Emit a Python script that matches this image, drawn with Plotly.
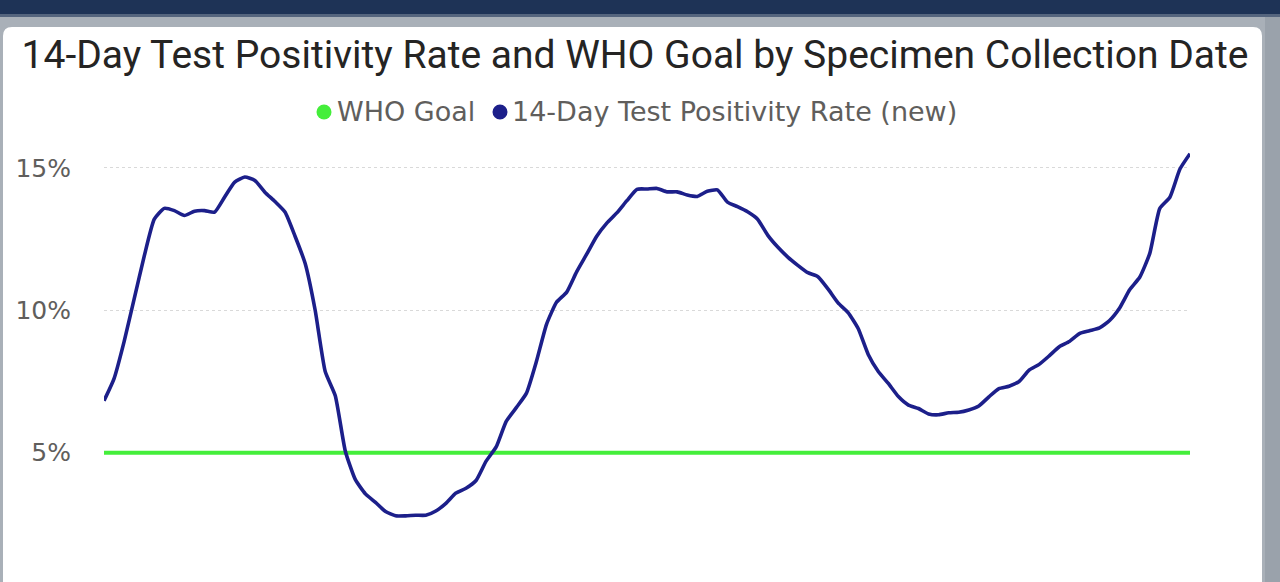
import plotly.graph_objects as go

# ---------------- data ----------------
day_index = list(range(109))
positivity_rate = [
    6.82, 7.6, 8.9, 10.4, 11.9, 13.2, 13.58, 13.5, 13.33, 13.48,
    13.5, 13.45, 13.98, 14.5, 14.68, 14.56, 14.15, 13.82, 13.45, 12.6,
    11.65, 10.0, 7.85, 7.0, 5.05, 4.05, 3.55, 3.25, 2.93, 2.78,
    2.78, 2.8, 2.8, 2.95, 3.22, 3.58, 3.75, 4.02, 4.7, 5.2,
    6.1, 6.58, 7.08, 8.2, 9.5, 10.28, 10.63, 11.35, 11.97, 12.6,
    13.06, 13.42, 13.85, 14.25, 14.26, 14.28, 14.16, 14.16, 14.05, 14.0,
    14.18, 14.23, 13.8, 13.64, 13.46, 13.2, 12.64, 12.22, 11.87, 11.58,
    11.32, 11.18, 10.75, 10.26, 9.92, 9.36, 8.45, 7.85, 7.43, 6.97,
    6.67, 6.55, 6.36, 6.33, 6.4, 6.42, 6.5, 6.64, 6.96, 7.25,
    7.33, 7.5, 7.9, 8.1, 8.4, 8.72, 8.9, 9.18, 9.28, 9.38,
    9.64, 10.08, 10.72, 11.16, 12.0, 13.58, 13.97, 14.96, 15.5,
]
who_goal_value = 5.0
who_goal = [who_goal_value for _ in day_index]

y_tick_values = [5, 10, 15]
y_tick_labels = ["5%", "10%", "15%"]

title_text = "14-Day Test Positivity Rate and WHO Goal by Specimen Collection Date"
legend_names = ["WHO Goal", "14-Day Test Positivity Rate (new)"]

# ---------------- styling ----------------
W, H = 1280, 582
ML, MR, MT, MB = 104, 90, 150, 0
PW, PH = W - ML - MR, H - MT - MB
GREEN = "#44EE3A"
NAVY = "#1C1F8A"
GREY_TEXT = "#605E5C"


def fx(px):
    return (px - ML) / PW


def fy(py):
    return (H - MB - py) / PH


def rounded_rect(x0, y0, x1, y1, r):
    pts = [
        f"M {fx(x0 + r)},{fy(y0)}",
        f"L {fx(x1 - r)},{fy(y0)}",
        f"Q {fx(x1)},{fy(y0)} {fx(x1)},{fy(y0 + r)}",
        f"L {fx(x1)},{fy(y1)}",
        f"L {fx(x0)},{fy(y1)}",
        f"L {fx(x0)},{fy(y0 + r)}",
        f"Q {fx(x0)},{fy(y0)} {fx(x0 + r)},{fy(y0)}",
        "Z",
    ]
    return " ".join(pts)


def legend_dot(cx, cy, color, d=15):
    return dict(type="circle", xref="paper", yref="paper",
                xsizemode="pixel", ysizemode="pixel",
                xanchor=fx(cx), yanchor=fy(cy),
                x0=-d / 2, x1=d / 2, y0=-d / 2, y1=d / 2,
                fillcolor=color, line=dict(width=0))


fig = go.Figure()

fig.add_trace(go.Scatter(
    x=day_index, y=who_goal, mode="lines", name=legend_names[0],
    line=dict(color=GREEN, width=4), showlegend=False,
))
fig.add_trace(go.Scatter(
    x=day_index, y=positivity_rate, mode="lines", name=legend_names[1],
    line=dict(color=NAVY, width=3.6, shape="spline", smoothing=0.5), showlegend=False,
))

shapes = [
    dict(type="rect", xref="paper", yref="paper", x0=fx(0), x1=fx(W), y0=fy(15), y1=fy(0),
         fillcolor="#1E3356", line=dict(width=0), layer="below"),
    dict(type="rect", xref="paper", yref="paper", x0=fx(0), x1=fx(W), y0=fy(17), y1=fy(14),
         fillcolor="#55657E", line=dict(width=0), layer="below"),
    dict(type="rect", xref="paper", yref="paper", x0=fx(1265), x1=fx(W), y0=fy(H), y1=fy(17),
         fillcolor="#9AA2AB", line=dict(width=0), layer="below"),
    dict(type="path", xref="paper", yref="paper", path=rounded_rect(3, 27, 1262, H + 20, 9),
         fillcolor="white", line=dict(width=0), layer="below"),
    legend_dot(324, 112, GREEN),
    legend_dot(500, 112, NAVY),
]

legend_font = dict(family="DejaVu Sans", size=27, color=GREY_TEXT)
annotations = [
    dict(text=legend_names[0], xref="paper", yref="paper", x=fx(335), y=fy(111),
         xanchor="left", yanchor="middle", showarrow=False, font=legend_font),
    dict(text=legend_names[1], xref="paper", yref="paper", x=fx(510), y=fy(111),
         xanchor="left", yanchor="middle", showarrow=False, font=legend_font),
]

fig.update_layout(
    width=W, height=H,
    margin=dict(l=ML, r=MR, t=MT, b=MB),
    paper_bgcolor="#A9B0B8",
    plot_bgcolor="rgba(0,0,0,0)",
    shapes=shapes,
    annotations=annotations,
    title=dict(
        text=title_text, x=635 / W, xanchor="center", y=1 - 54 / H, yanchor="middle",
        font=dict(family="Roboto", size=39, color="#252423"),
    ),
    xaxis=dict(range=[0, 108], showgrid=False, zeroline=False, showticklabels=False,
               showline=False, ticks=""),
    yaxis=dict(
        range=[0.456, 15.63], tickvals=y_tick_values, ticktext=y_tick_labels,
        showgrid=True, gridcolor="#D9D9D9", griddash="dot", gridwidth=1,
        zeroline=False, showline=False, ticks="", ticklabelstandoff=32,
        tickfont=dict(family="DejaVu Sans", size=25, color=GREY_TEXT),
    ),
)

fig.write_html("out.html")
